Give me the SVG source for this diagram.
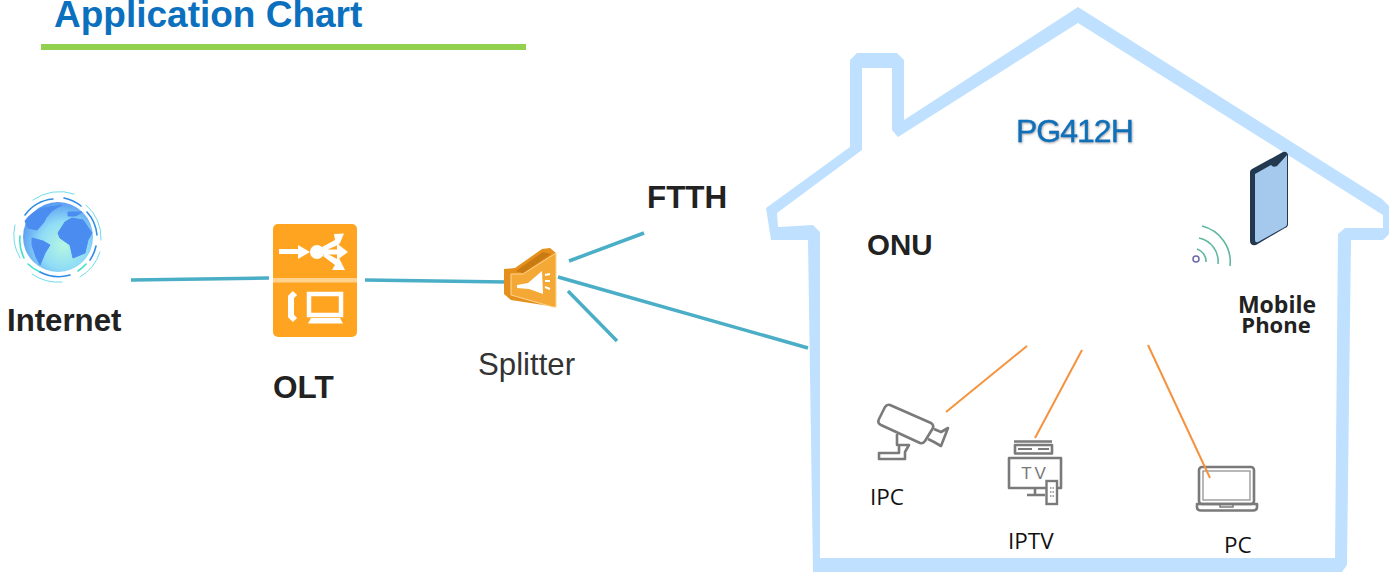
<svg xmlns="http://www.w3.org/2000/svg" width="1396" height="573" viewBox="0 0 1396 573">
<defs>
<radialGradient id="gl" cx="58%" cy="62%" r="62%"><stop offset="0" stop-color="#b6f6e2"/><stop offset="0.55" stop-color="#8fdcf6"/><stop offset="1" stop-color="#5a9cf2"/></radialGradient>
<filter id="sh" x="-5%" y="-10%" width="110%" height="125%"><feDropShadow dx="0.6" dy="1" stdDeviation="0.8" flood-color="#555" flood-opacity="0.55"/></filter>
</defs>
<style>
text{font-family:"Liberation Sans",Arial,sans-serif}
.b{font-weight:700;fill:#222}
.m{font-family:"Open Sans","Noto Sans",sans-serif;font-weight:700;fill:#222}
.c{font-family:"Open Sans","Noto Sans",sans-serif;fill:#111;font-size:22.5px}
.teal{stroke:#4aaec6;stroke-width:3.5;fill:none}
.or{stroke:#f5923e;stroke-width:2;fill:none}
.ic{stroke:#7a7a7a;stroke-width:2.6;fill:none;stroke-linejoin:round}
.w{fill:#fff}
</style>
<rect width="1396" height="573" fill="#fff"/>
<text id="title" x="54" y="27" font-size="37" font-weight="700" fill="#0b70bd">Application Chart</text>
<rect x="41" y="44" width="485" height="6" fill="#92d050"/>
<g id="house"><path fill="#bfe1ff" fill-rule="evenodd" d="M1078 7 L1382 199 L1389 206 L1389 234 L1383 240 L1351 240 L1347 565 L1342 572 L813 572 L808 240 L771 240 L766 208 L850 147 L850 60 L857 53 L897 53 L904 60 L904 120 Z M1078 23 L898 137 L892 130 L892 68 L862 68 L862 150 L777 213 L778 227 L813 225 L820 232 L820 558 L1335 558 L1338 234 L1345 228 L1383 228 L1383 215 Z"/></g>
<g id="connectors">
<path class="teal" d="M131 280 L269 278"/>
<path class="teal" d="M365 280 L507 282"/>
<path class="teal" d="M569 261 L644 233"/>
<path class="teal" d="M558 277 L808 348"/>
<path class="teal" d="M568 291 L617 341"/>
<path class="or" d="M946 412 L1027 346"/>
<path class="or" d="M1035 438 L1082 350"/>
</g>
<g id="internet">
<circle cx="58" cy="237" r="35" fill="url(#gl)"/>
<g fill="#4a8cf0" stroke="#4a8cf0" stroke-width="1" stroke-linejoin="round">
<path d="M25 221 Q30 213 43 208 L62 205 Q52 210 50 213 Q45 218 44 222 L37 230 L28 228 Z"/>
<path d="M32 238 L43 241 L50 245 L45 253 L40 265 L36 257 L32 245 Z"/>
<path d="M58 233 L65 222 L72 218 L83 220 L92 233 L88 240 L85 253 L73 258 L70 245 L60 238 Z"/>
<path d="M68 212 L82 212 L76 216 L68 216 Z"/>
</g>
<g fill="none" stroke-linecap="round">
<path d="M25 215 A39 39 0 0 1 53 199 M64 198 A40 40 0 0 1 81 206 M87 212 A40 40 0 0 1 97 235 M96 246 A40 40 0 0 1 90 260" stroke="#2f8de8" stroke-width="1.600"/>
<path d="M20 236 A39 39 0 0 0 24 258 M28 264 A40 40 0 0 0 40 272 M86 264 A40 40 0 0 1 78 271" stroke="#45e0c8" stroke-width="1.600"/>
<path d="M40 272 A40 40 0 0 0 70 275" stroke="#2f8de8" stroke-width="1.600"/>
<path d="M33 200 A45 45 0 0 1 74 194 M86 205 A44 44 0 0 1 101 240 M100 252 A45 45 0 0 1 80 277 M62 282 A45 45 0 0 1 32 274 M20 258 A45 45 0 0 1 15 225" stroke="#6fdcec" stroke-width="1"/>
</g>
<text class="b" x="7" y="331" font-size="31.200">Internet</text>
</g>
<g id="olt">
<rect x="273" y="224" width="84" height="113" rx="5" fill="#ffa420"/>
<rect x="273" y="278" width="84" height="4.500" fill="#ffd28e"/>
<path class="w" d="M279 249 H298 V245 L310 252 L298 259 V254 H279 Z"/>
<circle class="w" cx="317" cy="252" r="7"/>
<path class="w" d="M322 247 L335 240 L334 234 L344 233.500 L340 243 L338 245 L324 251 Z M323 249.500 H337 V243.500 L348 252 L337 260 V254.500 H323 Z M323 256 L326 253 L337 259 L339 258 L345 270 L332 270 L335 265 Z"/>
<path d="M295 293 L291 297 V316 L295 320" fill="none" stroke="#fff" stroke-width="6"/>
<rect x="309" y="294" width="32" height="21" fill="none" stroke="#fff" stroke-width="4.500"/>
<path class="w" d="M311 318 H340 L343 323.500 H308 Z"/>
<text class="b" x="273" y="398" font-size="31.500">OLT</text>
</g>
<g id="splitter">
<path d="M504 269 L515 268 L542 249 L550 248 L556 253 L556 307 L511 300 L504 294 Z" fill="#e58f1c"/>
<path d="M516 271 L543 252 L551 254 L523 273 Z" fill="#c97a12"/>
<path d="M511 274 L523 274 L556 253 L556 307 L553 307 L511 295 Z" fill="#f4a835" stroke="#ffd690" stroke-width="1"/>
<path class="w" d="M517 285 L528 283 L542 271 L543 294 L529 289 L517 288 Z"/>
<path d="M545 275 L550 274 M545 281 L550 281 M545 287 L550 289" stroke="#fff" stroke-width="2"/>
<text x="478" y="375" font-size="31.200" fill="#333">Splitter</text>
</g>
<text id="ftth" class="b" x="647" y="208" font-size="31.400">FTTH</text>
<text id="onu" class="b" x="867" y="255" font-size="29.500">ONU</text>
<text id="model" x="1016" y="142" font-size="32" fill="#1070b8" stroke="#1070b8" stroke-width="0.400" letter-spacing="-1" filter="url(#sh)">PG412H</text>
<g id="phone">
<path d="M1252 169 L1283 152 Q1287 151 1288 155 L1288 224 Q1288 227 1285 228 L1256 245 Q1250 246 1250 241 L1250 172 Q1250 170 1252 169 Z" fill="#22394f"/>
<path d="M1255 174 L1271 165 Q1273 168 1277 166 L1287 155 L1287 224 Q1287 226 1285 227 L1258 242 Q1255 243 1255 240 Z" fill="#a5c9ec"/>
<circle cx="1196" cy="259" r="3" fill="none" stroke="#6a6aa8" stroke-width="1.500"/>
<path d="M1197 249 A13 13 0 0 1 1206 262 M1199 238 A24 24 0 0 1 1218 264 M1202 226 A37 37 0 0 1 1230 266" fill="none" stroke="#5fb8a0" stroke-width="1.600"/>
<text class="m" x="1277" y="313" font-size="23" text-anchor="middle">Mobile</text>
<text class="m" x="1276" y="333" font-size="22" text-anchor="middle">Phone</text>
</g>
<g id="ipc">
<path class="ic" d="M890 405 L931 423 Q934 425 933 428 L925 441 Q923 444 920 443 L881 425 Q877 423 879 419 L885 407 Q887 404 890 405 Z"/>
<path class="ic" d="M934 429 L941 432 L948 428 L941 446 L934 442 L928 439"/>
<path class="ic" d="M897 434 V445 H909 L905 452 V459 H879 V453 H899 V445"/>
<text class="c" x="870" y="505">IPC</text>
</g>
<g id="iptv">
<path d="M1014 441.500 H1052" class="ic"/>
<rect x="1015" y="445" width="37" height="8.500" class="ic"/>
<path d="M1018 449 H1032 M1038 449 H1049" stroke="#7a7a7a" stroke-width="2" stroke-dasharray="14 5 2 2"/>
<path class="ic" d="M1046 488 H1009 V458 H1061 V488 H1058"/>
<path class="ic" d="M1027 495 H1045 M1035 488 V495"/>
<rect x="1046.500" y="481" width="10.500" height="23" fill="#fff" stroke="#7a7a7a" stroke-width="2.400"/>
<path d="M1050 488 H1054 M1050 492 H1054 M1050 496 H1054" stroke="#8a8a8a" stroke-width="1.500" stroke-dasharray="1.500 1"/>
<text x="1035" y="479" font-size="17" fill="#777" text-anchor="middle" letter-spacing="3">TV</text>
<text class="c" x="1008" y="549">IPTV</text>
</g>
<g id="pc">
<rect x="1199" y="467" width="55" height="37" rx="3" class="ic"/>
<rect x="1203" y="471" width="47" height="29" fill="#fff" stroke="#9a9a9a" stroke-width="1.400"/>
<path class="ic" d="M1197 504 H1257 V507 Q1257 510.500 1253 510.500 H1201 Q1197 510.500 1197 507 Z"/>
<path d="M1220 504 V507 H1233 V504" fill="none" stroke="#7a7a7a" stroke-width="1.500"/>
<path class="or" d="M1148 345 L1210 478"/>
<text class="c" x="1224" y="553">PC</text>
</g>
</svg>
